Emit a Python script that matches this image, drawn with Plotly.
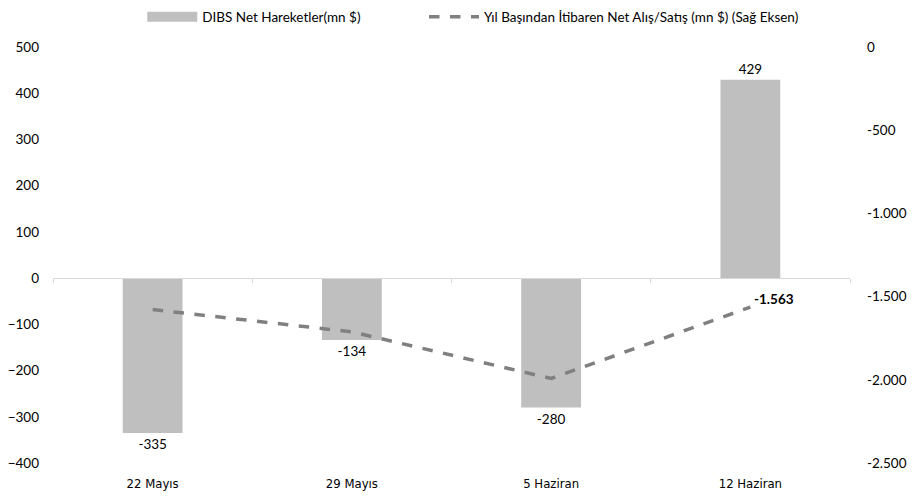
import plotly.graph_objects as go

categories = ["22 Mayıs", "29 Mayıs", "5 Haziran", "12 Haziran"]
net_moves = [-335, -134, -280, 429]
cumulative = [-1578, -1712, -1992, -1563]
bar_labels = ["-335", "-134", "-280", "429"]
line_labels = ["", "", "", "-1.563"]

left_ticks = [500, 400, 300, 200, 100, 0, -100, -200, -300, -400]
right_ticks = [0, -500, -1000, -1500, -2000, -2500]
right_tick_text = ["0", "-500", "-1.000", "-1.500", "-2.000", "-2.500"]

y_range = [-400, 500]
y2_range = [-2500, 0]

FONT = "Lato"
BAR_NAME = "DIBS Net Hareketler(mn $)"
LINE_NAME = "Yıl Başından İtibaren Net Alış/Satış (mn $) (Sağ Eksen)"

fig = go.Figure()
fig.add_trace(go.Bar(
    x=categories, y=net_moves, name=BAR_NAME, showlegend=False,
    marker=dict(color="#bfbfbf", line=dict(width=0)), width=0.3,
    text=bar_labels, textposition="outside", cliponaxis=False,
    textfont=dict(color="#000000", size=13.5, family=FONT),
))
# legend proxy for the bars (wide grey swatch)
fig.add_trace(go.Scatter(x=[None], y=[None], mode="lines", name=BAR_NAME,
                         line=dict(color="#bfbfbf", width=10), legend="legend"))
fig.add_trace(go.Scatter(
    x=categories, y=cumulative, yaxis="y2", mode="lines", name=LINE_NAME,
    line=dict(color="#808080", width=3.5, dash="dash"), legend="legend2",
))
# invisible trace to carry the zero-line axis
fig.add_trace(go.Scatter(x=categories, y=[None]*4, xaxis="x2", showlegend=False,
                         hoverinfo="skip", mode="lines"))

fig.add_annotation(x=categories[3], y=cumulative[3], yref="y2", text="<b>" + line_labels[3] + "</b>",
                   showarrow=False, xanchor="left", yanchor="bottom", xshift=2, yshift=-2,
                   bgcolor="white", font=dict(size=13.5, color="#000000", family=FONT))

zero_pos = (0 - y_range[0]) / (y_range[1] - y_range[0])

legend_common = dict(orientation="h", xanchor="left", y=1.072, yanchor="middle",
                     font=dict(size=13.5, family=FONT), itemwidth=50,
                     bgcolor="rgba(0,0,0,0)")

fig.update_layout(
    width=915, height=498,
    margin=dict(l=53, r=65, t=47, b=35, autoexpand=False),
    plot_bgcolor="white", paper_bgcolor="white",
    font=dict(family=FONT, size=13.5, color="#000000"),
    legend=dict(x=0.112, **legend_common),
    legend2=dict(x=0.4655, **legend_common),
    xaxis=dict(showgrid=False, showline=False, ticks="outside", ticklen=8, tickcolor="white",
               automargin=False,
               tickfont=dict(family="DejaVu Sans Condensed, Lato", size=13)),
    xaxis2=dict(overlaying="x", anchor="free", position=zero_pos, showline=True,
                linecolor="#d9d9d9", linewidth=1, ticks="outside", tickson="boundaries",
                ticklen=4, tickcolor="#d9d9d9", showticklabels=False, showgrid=False,
                matches="x", automargin=False),
    yaxis=dict(range=y_range, tickvals=left_ticks, showgrid=False, zeroline=False,
               showline=False, ticks="", ticklabelstandoff=13, automargin=False),
    yaxis2=dict(range=y2_range, tickvals=right_ticks, ticktext=right_tick_text, overlaying="y",
                side="right", showgrid=False, zeroline=False, showline=False, ticks="",
                ticklabelstandoff=16, automargin=False),
)

fig.write_html("out.html", config={"displayModeBar": False},
               post_script="document.body.style.margin='0';document.body.style.overflow='hidden';")
